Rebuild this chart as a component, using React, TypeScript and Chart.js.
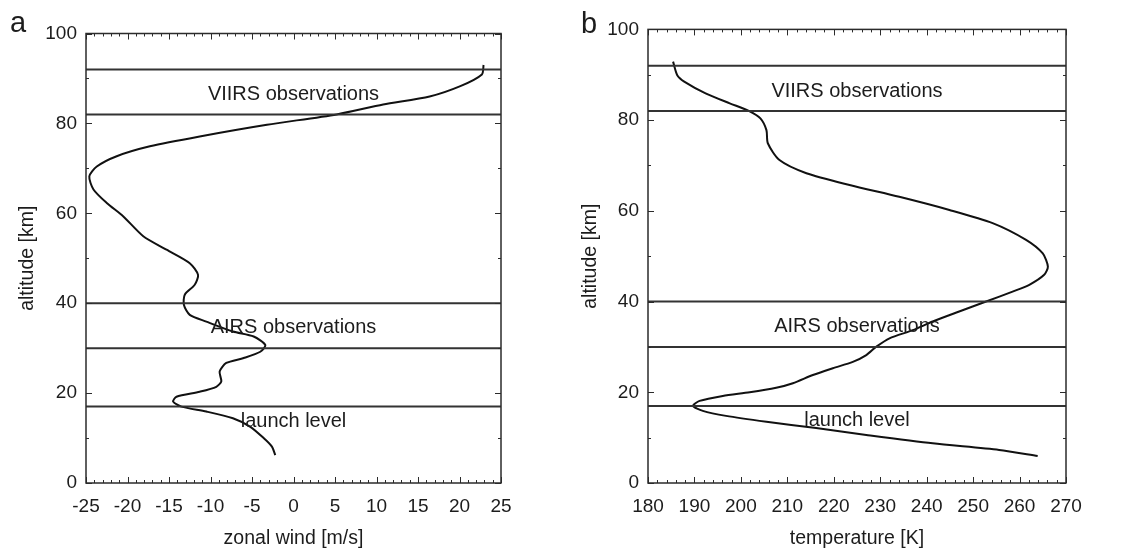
import React, { useEffect, useRef } from 'react';
import { Chart, registerables } from 'chart.js';

Chart.register(...registerables);

const FONT = '"Liberation Sans", Arial, Helvetica, sans-serif';
const INK = '#1c1c1c';

// Zonal wind profile (altitude in km, wind in m/s)
const windAltitudeKm = [
  93, 90.9, 88.3, 86, 84.2, 82, 79.7, 77.1, 74.9, 72.7, 70.4, 68.2, 65.3, 62.3,
  59.3, 54.9, 51.9, 48.9, 46.3, 44.1, 41.9, 39.6, 37.4, 35.9, 33.7, 32.6, 30.7,
  29.2, 27.8, 26.7, 24.8, 22.6, 21.4, 20.3, 19.2, 18.1, 17.0, 15.9, 14.4, 12.5,
  10.0, 8.1, 6.2,
];
const zonalWindMs = [
  22.9, 22.7, 20.1, 16.4, 10.8, 5.2, -3.2, -11.3, -17.3, -21.3, -23.7, -24.6,
  -24.1, -22.5, -20.5, -18.1, -15.3, -12.5, -11.5, -11.9, -13.1, -13.2, -12.5,
  -10.5, -7.3, -4.8, -3.4, -4.0, -6.0, -8.1, -8.9, -8.7, -9.3, -11.3, -14.1,
  -14.5, -13.5, -10.5, -7.3, -5.2, -3.6, -2.6, -2.2,
];

// Temperature profile (altitude in km, temperature in K)
const tempAltitudeKm = [
  92.9, 89.9, 88.5, 85.9, 83.7, 82.0, 80.4, 77.8, 74.9, 71.2, 68.3, 65.7, 63.1,
  60.2, 57.3, 53.6, 50.6, 47.7, 45.9, 43.7, 42.2, 40.0, 37.8, 35.6, 33.7, 31.9,
  30.0, 28.2, 26.7, 25.3, 23.8, 22.0, 21.0, 20.0, 19.2, 18.1, 17.0, 15.9, 14.8,
  13.5, 12.1, 10.6, 8.75, 7.3, 5.95,
];
const temperatureK = [
  185.4, 186.3, 187.8, 192.4, 197.6, 201.8, 204.2, 205.5, 205.8, 208.3, 214.1,
  223.4, 234.1, 244.9, 254.2, 261.4, 265.0, 266.1, 265.3, 262.1, 258.5, 252.8,
  247.0, 241.3, 237.0, 232.0, 229.1, 227.0, 224.1, 219.8, 215.5, 211.2, 207.6,
  201.9, 196.1, 191.1, 189.7, 191.8, 196.8, 205.5, 216.2, 227.0, 241.3, 255.6,
  263.9,
];

// Boundaries of the observation bands and the launch level
const levelAltitudesKm = [17, 30, 40, 82, 92];
const bandLabels = ['VIIRS observations', 'AIRS observations', 'launch level'];
const bandLabelAltitudesKm = [85.2, 33.3, 12.5];

const altitudeRange = [0, 100];
const altitudeTitle = 'altitude [km]';

type PanelSpec = {
  letter: string;
  xs: number[];
  ys: number[];
  xMin: number;
  xMax: number;
  xStep: number;
  xMinor: number;
  xTitle: string;
  labelX: number;
  left: number;
  width: number;
  axisWidth: number;
  padRight: number;
  padTop: number;
  yTitlePad: number;
  letterX: number;
  letterY: number;
};

const panels: PanelSpec[] = [
  {
    letter: 'a',
    xs: zonalWindMs,
    ys: windAltitudeKm,
    xMin: -25,
    xMax: 25,
    xStep: 5,
    xMinor: 1,
    xTitle: 'zonal wind [m/s]',
    labelX: 0,
    left: 0,
    width: 566,
    axisWidth: 86,
    padRight: 65,
    padTop: 33.5,
    yTitlePad: 15.5,
    letterX: 10,
    letterY: 32,
  },
  {
    letter: 'b',
    xs: temperatureK,
    ys: tempAltitudeKm,
    xMin: 180,
    xMax: 270,
    xStep: 10,
    xMinor: 2,
    xTitle: 'temperature [K]',
    labelX: 225,
    left: 566,
    width: 567,
    axisWidth: 82,
    padRight: 67,
    padTop: 29.4,
    yTitlePad: 13.3,
    letterX: 15,
    letterY: 33,
  },
];

const HEIGHT = 550;

// Frame, inward ticks on all four sides, band labels and the panel letter
const decorPlugin = {
  id: 'decor',
  afterDraw(chart: any, _args: any, opts: any) {
    const { ctx, chartArea: a, scales } = chart;
    const xs = scales.x;
    const ys = scales.y;
    ctx.save();
    ctx.strokeStyle = '#2b2b2b';
    ctx.lineWidth = 1;
    const seg = (x1: number, y1: number, x2: number, y2: number) => {
      ctx.beginPath();
      ctx.moveTo(x1, y1);
      ctx.lineTo(x2, y2);
      ctx.stroke();
    };
    const isMajor = (v: number, base: number, step: number) => {
      const r = (v - base) / step;
      return Math.abs(r - Math.round(r)) < 1e-6;
    };
    for (let i = 0; ; i++) {
      const v = xs.min + i * opts.xMinor;
      if (v > xs.max + 1e-9) break;
      const len = isMajor(v, xs.min, opts.xStep) ? 6 : 3;
      const px = Math.round(xs.getPixelForValue(v)) + 0.5;
      seg(px, a.bottom, px, a.bottom - len);
      seg(px, a.top, px, a.top + len);
    }
    for (let i = 0; ; i++) {
      const v = ys.min + i * 10;
      if (v > ys.max + 1e-9) break;
      const len = isMajor(v, ys.min, 20) ? 6 : 3;
      const py = Math.round(ys.getPixelForValue(v)) + 0.5;
      seg(a.left, py, a.left + len, py);
      seg(a.right, py, a.right - len, py);
    }
    ctx.lineWidth = 1.5;
    ctx.strokeStyle = '#2b2b2b';
    ctx.strokeRect(a.left, a.top, a.right - a.left, a.bottom - a.top);

    ctx.fillStyle = INK;
    ctx.font = `20px ${FONT}`;
    ctx.textAlign = 'center';
    ctx.textBaseline = 'alphabetic';
    bandLabels.forEach((text, i) => {
      ctx.fillText(
        text,
        xs.getPixelForValue(opts.labelX),
        ys.getPixelForValue(bandLabelAltitudesKm[i])
      );
    });

    ctx.font = `29px ${FONT}`;
    ctx.textAlign = 'left';
    ctx.fillText(opts.letter, opts.letterX, opts.letterY);
    ctx.restore();
  },
};

function ProfilePanel({ spec }: { spec: PanelSpec }) {
  const canvasRef = useRef<HTMLCanvasElement | null>(null);

  useEffect(() => {
    if (!canvasRef.current) return;
    const profile = spec.ys.map((h, i) => ({ x: spec.xs[i], y: h }));
    const levelSets = levelAltitudesKm.map((h) => ({
      data: [
        { x: spec.xMin, y: h },
        { x: spec.xMax, y: h },
      ],
      borderColor: '#333333',
      borderWidth: 2,
      pointRadius: 0,
      showLine: true,
      tension: 0,
    }));

    const chart = new Chart(canvasRef.current, {
      type: 'scatter',
      data: {
        datasets: [
          ...levelSets,
          {
            data: profile,
            borderColor: '#111111',
            borderWidth: 2,
            pointRadius: 0,
            showLine: true,
            tension: 0.25,
          },
        ],
      },
      options: {
        animation: false,
        responsive: false,
        devicePixelRatio: 1,
        events: [],
        layout: {
          padding: { left: 0, right: spec.padRight, top: spec.padTop, bottom: 0 },
        },
        plugins: {
          legend: { display: false },
          tooltip: { enabled: false },
          decor: {
            xMinor: spec.xMinor,
            xStep: spec.xStep,
            labelX: spec.labelX,
            letter: spec.letter,
            letterX: spec.letterX,
            letterY: spec.letterY,
          },
        } as any,
        scales: {
          x: {
            type: 'linear',
            min: spec.xMin,
            max: spec.xMax,
            grid: { display: false, drawTicks: false },
            border: { display: false },
            ticks: {
              stepSize: spec.xStep,
              color: INK,
              font: { family: FONT, size: 19 },
              padding: 12,
              maxRotation: 0,
              autoSkip: false,
            },
            title: {
              display: true,
              text: spec.xTitle,
              color: INK,
              font: { family: FONT, size: 19.5 },
              padding: { top: 1, bottom: 0 },
            },
            afterFit: (scale: any) => {
              scale.height = HEIGHT - 483;
            },
          },
          y: {
            type: 'linear',
            min: altitudeRange[0],
            max: altitudeRange[1],
            grid: { display: false, drawTicks: false },
            border: { display: false },
            ticks: {
              stepSize: 20,
              color: INK,
              font: { family: FONT, size: 19 },
              padding: 9,
            },
            title: {
              display: true,
              text: altitudeTitle,
              color: INK,
              font: { family: FONT, size: 19.5 },
              padding: { top: spec.yTitlePad, bottom: 0 },
            },
            afterFit: (scale: any) => {
              scale.width = spec.axisWidth;
            },
          },
        },
      },
      plugins: [decorPlugin],
    });
    return () => chart.destroy();
  }, [spec]);

  return (
    <div
      style={{
        position: 'absolute',
        left: spec.left,
        top: 0,
        width: spec.width,
        height: HEIGHT,
      }}
    >
      <canvas ref={canvasRef} width={spec.width} height={HEIGHT} />
    </div>
  );
}

export default function App() {
  return (
    <div
      style={{
        position: 'fixed',
        left: 0,
        top: 0,
        width: 1133,
        height: HEIGHT,
        background: '#ffffff',
        overflow: 'hidden',
      }}
    >
      {panels.map((p) => (
        <ProfilePanel key={p.letter} spec={p} />
      ))}
    </div>
  );
}
